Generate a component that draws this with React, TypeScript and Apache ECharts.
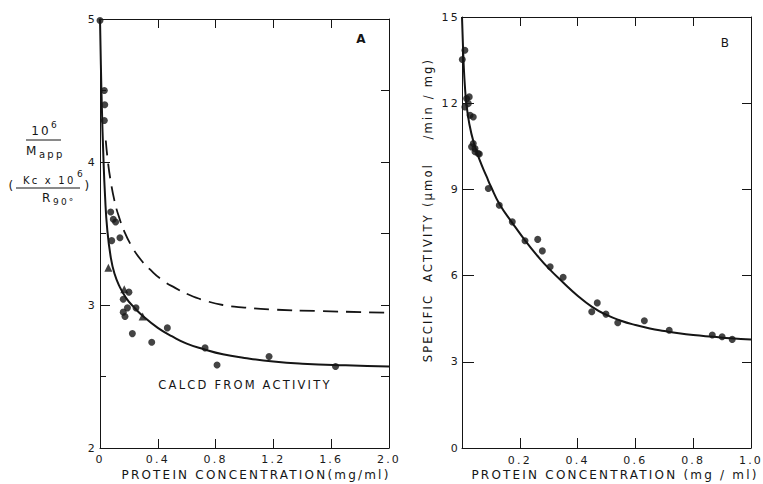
import React, { useEffect, useRef } from "react";
import * as echarts from "echarts";

// ---------- Panel A data (1/Mapp vs protein concentration) ----------
const leftXTicks = [0, 0.4, 0.8, 1.2, 1.6, 2.0];
const leftYTicks = [2, 3, 4, 5];
const leftCircles: [number, number][] = [
  [0.0, 4.99], [0.03, 4.5], [0.033, 4.4], [0.03, 4.29],
  [0.074, 3.65], [0.092, 3.6], [0.108, 3.58], [0.081, 3.45], [0.138, 3.47],
  [0.2, 3.09], [0.161, 3.04], [0.161, 2.95], [0.19, 2.98], [0.173, 2.92],
  [0.249, 2.98], [0.224, 2.8], [0.358, 2.74], [0.466, 2.84], [0.727, 2.7],
  [0.81, 2.58], [1.17, 2.64], [1.63, 2.57],
];
const leftTriangles: [number, number][] = [
  [0.058, 3.26], [0.168, 3.11], [0.295, 2.92],
];
const leftSolidCurve: [number, number][] = [
  [0, 5.0], [0.006, 4.68], [0.013, 4.38], [0.023, 4.05], [0.035, 3.76],
  [0.05, 3.53], [0.075, 3.33], [0.1, 3.22], [0.135, 3.13], [0.18, 3.05],
  [0.23, 2.99], [0.3, 2.92], [0.4, 2.84], [0.5, 2.78], [0.6, 2.73],
  [0.72, 2.69], [0.85, 2.655], [1.0, 2.63], [1.2, 2.605], [1.4, 2.59],
  [1.7, 2.578], [2.0, 2.57],
];
const leftDashedCurve: [number, number][] = [
  [0.04, 4.15], [0.055, 4.0], [0.075, 3.86], [0.1, 3.73], [0.13, 3.62],
  [0.17, 3.51], [0.22, 3.41], [0.28, 3.32], [0.35, 3.245], [0.43, 3.175],
  [0.52, 3.12], [0.62, 3.07], [0.73, 3.03], [0.85, 3.0], [1.0, 2.982],
  [1.2, 2.968], [1.5, 2.958], [2.0, 2.946],
];

// ---------- Panel B data (specific activity vs protein concentration) ----------
const rightXTicks = [0, 0.2, 0.4, 0.6, 0.8, 1.0];
const rightYTicks = [0, 3, 6, 9, 12, 15];
const rightCircles: [number, number][] = [
  [0.001, 13.52], [0.01, 13.84], [0.016, 12.16], [0.022, 11.99], [0.01, 11.87],
  [0.028, 11.58], [0.039, 11.52], [0.025, 12.22],
  [0.039, 10.6], [0.045, 10.42], [0.056, 10.25], [0.033, 10.48], [0.045, 10.31], [0.06, 10.23],
  [0.091, 9.03], [0.129, 8.45], [0.174, 7.87], [0.218, 7.21], [0.262, 7.26],
  [0.278, 6.86], [0.305, 6.31], [0.35, 5.94], [0.449, 4.74], [0.468, 5.05],
  [0.498, 4.66], [0.539, 4.36], [0.631, 4.43], [0.717, 4.1], [0.866, 3.93],
  [0.9, 3.87], [0.935, 3.78],
];
const rightCurve: [number, number][] = [
  [0, 15.0], [0.003, 14.1], [0.006, 13.3], [0.01, 12.6], [0.015, 12.0],
  [0.025, 11.3], [0.04, 10.65], [0.062, 10.0], [0.085, 9.45], [0.1, 9.1],
  [0.13, 8.48], [0.175, 7.82], [0.22, 7.2], [0.26, 6.7], [0.3, 6.25],
  [0.35, 5.76], [0.4, 5.3], [0.45, 4.91], [0.5, 4.63], [0.55, 4.43],
  [0.6, 4.28], [0.65, 4.16], [0.7, 4.07], [0.75, 3.99], [0.8, 3.93],
  [0.87, 3.87], [0.93, 3.82], [1.0, 3.78],
];

const INK = "#151515";
const FONT = "DejaVu Sans";

export default function App() {
  const ref = useRef<HTMLDivElement>(null);

  useEffect(() => {
    if (!ref.current) return;
    const chart = echarts.init(ref.current, undefined, { renderer: "svg" });

    const axisLine = { show: true, onZero: false, lineStyle: { color: INK, width: 1 } };
    const tickStyle = { color: INK, width: 1 };
    const label = { color: "#1a1a1a", fontSize: 11, fontFamily: FONT };

    const xBase = (grid: number, max: number, interval: number) => ({
      gridIndex: grid,
      type: "value",
      min: 0,
      max,
      interval,
      axisLine,
      splitLine: { show: false },
    });
    const yBase = (grid: number, min: number, max: number, interval: number) => ({
      gridIndex: grid,
      type: "value",
      min,
      max,
      interval,
      axisLine,
      splitLine: { show: false },
    });

    const txt = (x: number, y: number, text: string, fontSize: number, align = "center", extra: any = {}) => ({
      type: "text",
      x,
      y,
      ...extra,
      style: { text, fontSize, fill: INK, fontFamily: FONT, align, verticalAlign: "middle", ...(extra.style || {}) },
    });

    const option: any = {
      animation: false,
      backgroundColor: "#ffffff",
      textStyle: { fontFamily: FONT },
      grid: [
        { left: 100, top: 19, width: 289, height: 429 },
        { left: 462, top: 17, width: 289, height: 431 },
      ],
      xAxis: [
        {
          ...xBase(0, leftXTicks[leftXTicks.length - 1], leftXTicks[1] - leftXTicks[0]),
          position: "bottom",
          axisTick: { show: true, inside: true, length: 9, lineStyle: tickStyle },
          axisLabel: {
            ...label,
            margin: 6,
            formatter: (v: number) => (v === 0 ? "0" : v.toFixed(1)),
          },
        },
        {
          ...xBase(0, leftXTicks[leftXTicks.length - 1], leftXTicks[1] - leftXTicks[0]),
          position: "top",
          axisTick: { show: true, inside: true, length: 9, lineStyle: tickStyle },
          axisLabel: { show: false },
        },
        {
          ...xBase(1, rightXTicks[rightXTicks.length - 1], rightXTicks[1] - rightXTicks[0]),
          position: "bottom",
          axisTick: { show: true, inside: true, length: 10, lineStyle: tickStyle },
          axisLabel: {
            ...label,
            margin: 7,
            formatter: (v: number) => (v === 0 ? "" : v.toFixed(1)),
          },
        },
        {
          ...xBase(1, rightXTicks[rightXTicks.length - 1], rightXTicks[1] - rightXTicks[0]),
          position: "top",
          axisTick: { show: true, inside: true, length: 9, lineStyle: tickStyle },
          axisLabel: { show: false },
        },
      ],
      yAxis: [
        {
          ...yBase(0, leftYTicks[0], leftYTicks[leftYTicks.length - 1], 1),
          position: "left",
          axisTick: { show: true, inside: true, length: 10, lineStyle: tickStyle },
          minorTick: { show: true, splitNumber: 2, length: 6, lineStyle: tickStyle },
          axisLabel: { ...label, margin: 3, formatter: (v: number) => String(v) },
        },
        {
          ...yBase(0, leftYTicks[0], leftYTicks[leftYTicks.length - 1], 0.5),
          position: "right",
          axisTick: { show: true, inside: true, length: 8, lineStyle: tickStyle },
          axisLabel: { show: false },
        },
        {
          ...yBase(1, rightYTicks[0], rightYTicks[rightYTicks.length - 1], 3),
          position: "left",
          axisTick: { show: true, inside: true, length: 12, lineStyle: tickStyle },
          axisLabel: { ...label, margin: 2, formatter: (v: number) => String(v) },
        },
        {
          ...yBase(1, rightYTicks[0], rightYTicks[rightYTicks.length - 1], 3),
          position: "right",
          axisTick: { show: true, inside: true, length: 9, lineStyle: tickStyle },
          axisLabel: { show: false },
        },
      ],
      series: [
        {
          type: "line",
          xAxisIndex: 0,
          yAxisIndex: 0,
          data: leftSolidCurve,
          smooth: 0.5,
          showSymbol: false,
          lineStyle: { color: INK, width: 2 },
          z: 3,
        },
        {
          type: "line",
          xAxisIndex: 0,
          yAxisIndex: 0,
          data: leftDashedCurve,
          smooth: 0.5,
          showSymbol: false,
          lineStyle: { color: INK, width: 1.8, type: [15, 8] },
          z: 3,
        },
        {
          type: "scatter",
          xAxisIndex: 0,
          yAxisIndex: 0,
          data: leftCircles,
          symbol: "circle",
          symbolSize: 7,
          itemStyle: { color: INK },
          z: 4,
        },
        {
          type: "scatter",
          xAxisIndex: 0,
          yAxisIndex: 0,
          data: leftTriangles,
          symbol: "triangle",
          symbolSize: 8,
          itemStyle: { color: INK },
          z: 4,
        },
        {
          type: "line",
          xAxisIndex: 2,
          yAxisIndex: 2,
          data: rightCurve,
          smooth: 0.5,
          showSymbol: false,
          lineStyle: { color: INK, width: 2 },
          z: 3,
        },
        {
          type: "scatter",
          xAxisIndex: 2,
          yAxisIndex: 2,
          data: rightCircles,
          symbol: "circle",
          symbolSize: 7,
          itemStyle: { color: INK },
          z: 4,
        },
      ],
      graphic: [
        // panel letters
        txt(362, 39, "A", 12, "center", { style: { fontWeight: "bold" } }),
        txt(726, 43, "B", 12),
        // annotation
        txt(245, 385, "CALCD FROM ACTIVITY", 11.5),
        // x-axis titles
        txt(256, 475, "PROTEIN CONCENTRATION(mg/ml)", 12),
        txt(615, 475, "PROTEIN CONCENTRATION (mg / ml)", 12),
        // right y-axis title (rotated)
        txt(428, 210, "SPECIFIC  ACTIVITY (μmol    /min / mg)", 11.5, "center", { rotation: Math.PI / 2 }),
        // left y-axis title: 10^6 / M_app
        txt(41, 131, "10", 12),
        txt(51, 125, "6", 9, "left"),
        { type: "line", shape: { x1: 26, y1: 140, x2: 61, y2: 140 }, style: { stroke: INK, lineWidth: 1 } },
        txt(26, 151, "M", 12, "left"),
        txt(39, 154, "app", 10, "left"),
        // ( Kc x 10^6 / R_90° )
        txt(12, 186, "(", 12),
        txt(23, 180, "Kc x 10", 10, "left"),
        txt(77, 174, "6", 9, "left"),
        { type: "line", shape: { x1: 16, y1: 188, x2: 80, y2: 188 }, style: { stroke: INK, lineWidth: 1 } },
        txt(42, 198, "R", 12, "left"),
        txt(53, 202, "90°", 9, "left"),
        txt(88, 186, ")", 12),
      ],
    };

    chart.setOption(option);
    return () => chart.dispose();
  }, []);

  return (
    <>
      <style>{"#chartbox text{letter-spacing:2.2px}"}</style>
      <div
        id="chartbox"
        ref={ref}
        style={{ position: "absolute", left: 0, top: 0, width: 763, height: 484, background: "#fff" }}
      />
    </>
  );
}
